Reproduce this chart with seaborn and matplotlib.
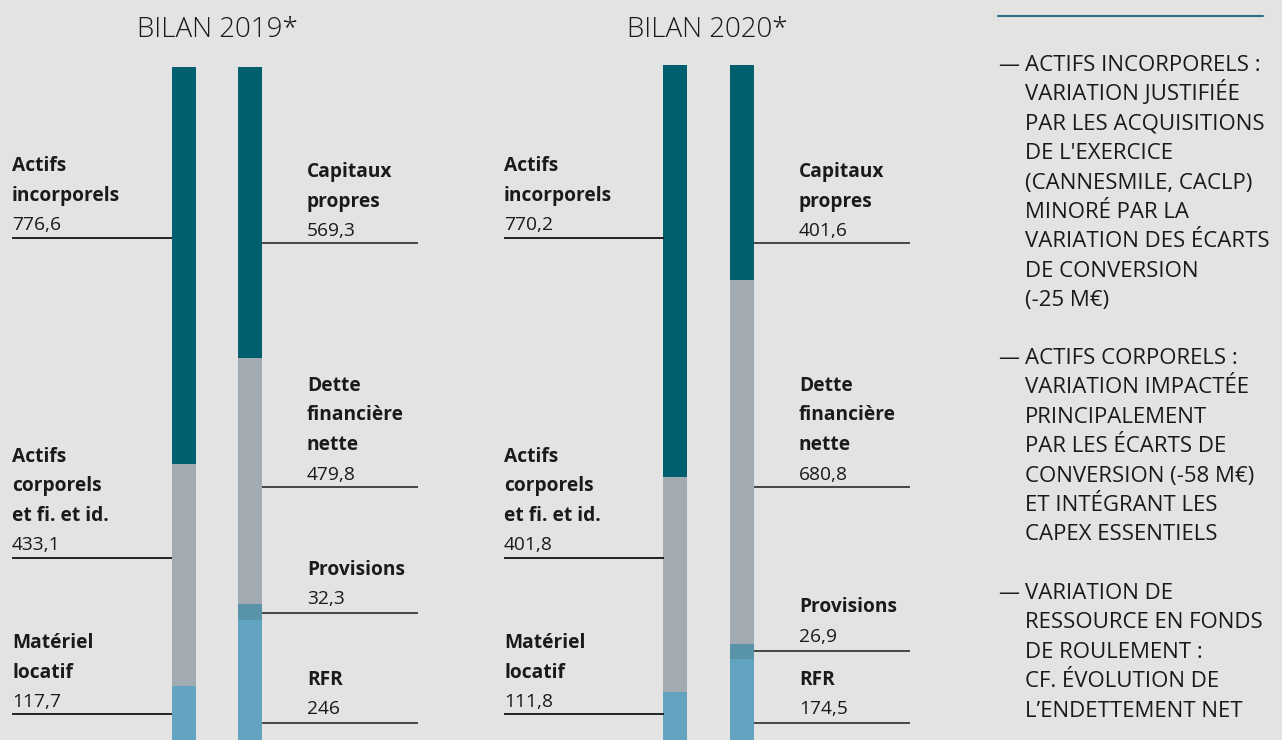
import numpy as np
import pandas as pd
import seaborn as sns
import matplotlib.pyplot as plt

# balance sheet values (M€)
years = ['2019', '2020']
actif_items = ['Matériel locatif', 'Actifs corporels et fi. et id.', 'Actifs incorporels']
actif_2019 = [117.7, 433.1, 776.6]
actif_2020 = [111.8, 401.8, 770.2]
passif_items = ['RFR', 'Provisions', 'Dette financière nette', 'Capitaux propres']
passif_2019 = [246.0, 32.3, 479.8, 569.3]
passif_2020 = [174.5, 26.9, 680.8, 401.6]

values_labels = {
    '2019': ['776,6', '433,1', '117,7', '569,3', '479,8', '32,3', '246'],
    '2020': ['770,2', '401,8', '111,8', '401,6', '680,8', '26,9', '174,5'],
}

notes = [
    ['ACTIFS INCORPORELS :', 'VARIATION JUSTIFIÉE', 'PAR LES ACQUISITIONS',
     "DE L'EXERCICE", '(CANNESMILE, CACLP)', 'MINORÉ PAR LA',
     'VARIATION DES ÉCARTS', 'DE CONVERSION', '(-25 M€)'],
    ['ACTIFS CORPORELS :', 'VARIATION IMPACTÉE', 'PRINCIPALEMENT',
     'PAR LES ÉCARTS DE', 'CONVERSION (-58 M€)', 'ET INTÉGRANT LES',
     'CAPEX ESSENTIELS'],
    ['VARIATION DE', 'RESSOURCE EN FONDS', 'DE ROULEMENT :',
     'CF. ÉVOLUTION DE', 'L’ENDETTEMENT NET'],
]

colors = {
    'Matériel locatif': '#62a3bf', 'Actifs corporels et fi. et id.': '#a3abb2',
    'Actifs incorporels': '#005f6f', 'RFR': '#62a3bf', 'Provisions': '#5893a9',
    'Dette financière nette': '#a3abb2', 'Capitaux propres': '#005f6f',
}

BG = '#e3e3e3'
TXT = '#1a1a1a'
sns.set_style('white')
plt.rcParams['font.family'] = ['Open Sans', 'DejaVu Sans']

W, H = 1282, 740
fig = plt.figure(figsize=(W / 100, H / 100), dpi=100, facecolor=BG)


def build(actif, passif):
    rows = []
    for side, items, vals in [('Actif', actif_items, actif), ('Passif', passif_items, passif)]:
        cum = np.concatenate([[0], np.cumsum(vals)[:-1]])
        for it, v, b in zip(items, vals, cum):
            rows.append({'side': side, 'item': it, 'value': v, 'bottom': b})
    return pd.DataFrame(rows)


# bar axes placement (pixels): left bar centre, top, bottom
placement = {'2019': (183.5, 67, 746), '2020': (675.0, 65, 752)}
data = {'2019': build(actif_2019, passif_2019), '2020': build(actif_2020, passif_2020)}
gap = 66.5
for y in years:
    cx, top, bot = placement[y]
    df = data[y]
    total = df[df.side == 'Actif'].value.sum()
    ax = fig.add_axes([(cx - gap / 2) / W, 1 - bot / H, 2 * gap / W, (bot - top) / H])
    ax.set_facecolor('none')
    for it in actif_items + passif_items:
        sub = df[df.item == it]
        sns.barplot(data=sub, x='side', y='value', order=['Actif', 'Passif'],
                    bottom=sub['bottom'].values[0], color=colors[it],
                    width=24 / gap, saturation=1, linewidth=0, ax=ax)
    ax.set_xlim(-0.5, 1.5)
    ax.set_ylim(0, total)
    ax.axis('off')

# overlay for texts in pixel coords
ov = fig.add_axes([0, 0, 1, 1])
ov.set_xlim(0, W)
ov.set_ylim(H, 0)
ov.axis('off')
ov.set_facecolor('none')

ov.text(217, 37, 'BILAN 2019*', ha='center', va='baseline', fontsize=20,
        fontweight='light', color=TXT)
ov.text(707, 37, 'BILAN 2020*', ha='center', va='baseline', fontsize=20,
        fontweight='light', color=TXT)

LS = 29.5
FS = 13.8


def block(x, base, lines, value, ly, x0, x1, lcol):
    for i, ln in enumerate(lines):
        ov.text(x, base + i * LS, ln, fontsize=FS, fontweight='bold', color=TXT,
                va='baseline')
    ov.text(x, base + len(lines) * LS, value, fontsize=FS, color=TXT, va='baseline')
    ov.plot([x0, x1], [ly, ly], color=lcol, lw=1.4, solid_capstyle='butt')


for y, dx in zip(years, [0, 492]):
    v = values_labels[y]
    lx, rx = 12 + dx, 307 + dx
    lb, rb0, rb1 = 172 + dx, 262 + dx, 418 + dx
    block(lx, 171, ['Actifs', 'incorporels'], v[0], 238, lx, lb, '#222222')
    block(lx, 462, ['Actifs', 'corporels', 'et fi. et id.'], v[1], 558, lx, lb, '#222222')
    block(lx, 648, ['Matériel', 'locatif'], v[2], 714, lx, lb, '#222222')
    block(rx, 177, ['Capitaux', 'propres'], v[3], 243, rb0, rb1, '#444444')
    block(rx, 391, ['Dette', 'financière', 'nette'], v[4], 487, rb0, rb1, '#444444')
    if y == '2019':
        block(rx, 575, ['Provisions'], v[5], 612.5, rb0, rb1, '#444444')
    else:
        block(rx, 612, ['Provisions'], v[5], 651, rb0, rb1, '#444444')
    block(rx, 685, ['RFR'], v[6], 722.5, rb0, rb1, '#444444')

# notes panel
ov.plot([998, 1263], [16, 16], color='#2a6d85', lw=1.5)
starts = [71, 364, 599]
for lines, b in zip(notes, starts):
    ov.text(998, b, '—', fontsize=15, color=TXT, va='baseline')
    for i, ln in enumerate(lines):
        ov.text(1025, b + i * 29.4, ln, fontsize=16, color=TXT, va='baseline')

fig.savefig('out.png', dpi=100, facecolor=BG)
